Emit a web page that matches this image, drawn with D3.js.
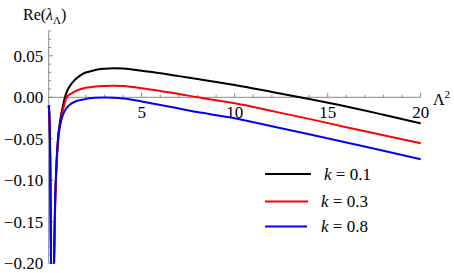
<!DOCTYPE html>
<html>
<head>
<meta charset="utf-8">
<script src="https://cdn.jsdelivr.net/npm/d3@7"></script>
<style>
  html, body { margin: 0; padding: 0; background: #fff; }
  svg { display: block; }
</style>
</head>
<body>
<svg id="chart" width="454" height="273" font-family="'Liberation Serif', 'Times New Roman', Times, 'DejaVu Serif', serif"></svg>
<script>
// Λ² grid shared by all series
const lambda2 = [0, 0.04, 0.08, 0.12, 0.16, 0.22, 0.28, 0.34, 0.4, 0.5, 0.6, 0.75, 0.9, 1.0, 1.25, 1.5, 1.9, 2.2, 2.5, 3, 3.5, 4, 5, 6, 7, 8, 9, 10, 12, 14, 16, 18, 20];

// Re(λ_Λ) for each k
const reK01 = [-0.010, -0.025, -0.07, -0.18, -0.35, -0.32, -0.21, -0.13, -0.09, -0.05, -0.03, -0.012, 0.002, 0.008, 0.017, 0.023, 0.029, 0.031, 0.033, 0.0345, 0.035, 0.0347, 0.032, 0.029, 0.0255, 0.022, 0.0185, 0.0148, 0.0065, -0.002, -0.011, -0.021, -0.0313];
const reK03 = [-0.010, -0.025, -0.07, -0.18, -0.35, -0.33, -0.22, -0.14, -0.095, -0.055, -0.035, -0.017, -0.004, 0.001, 0.005, 0.008, 0.011, 0.012, 0.013, 0.0137, 0.0139, 0.0135, 0.011, 0.0075, 0.004, 0.0, -0.0035, -0.0072, -0.0165, -0.026, -0.036, -0.0457, -0.0554];
const reK08 = [-0.010, -0.025, -0.07, -0.18, -0.35, -0.31, -0.2, -0.13, -0.09, -0.05, -0.035, -0.022, -0.015, -0.012, -0.007, -0.0045, -0.0025, -0.0012, -0.0005, -0.0002, -0.0006, -0.0015, -0.005, -0.0092, -0.0135, -0.0178, -0.0215, -0.0253, -0.0348, -0.0445, -0.0545, -0.0645, -0.0747];

const seriesLabels = ["0.1", "0.3", "0.8"];
const seriesColors = ["#000000", "#ff0000", "#0000ff"];
const xTickLabels = [5, 10, 15, 20];
const yTickLabels = [0.05, 0.00, -0.05, -0.10, -0.15, -0.20];

const series = [reK01, reK03, reK08].map((vals, i) => ({
  label: seriesLabels[i], color: seriesColors[i],
  points: lambda2.map((x, j) => [x, vals[j]])
}));

const svg = d3.select("#chart");
const x = d3.scaleLinear().domain([0, 20]).range([48.7, 420.7]);
const y = d3.scaleLinear().domain([-0.2, 0.08]).range([263.3, 30.9]);

svg.append("defs").append("clipPath").attr("id", "clip")
  .append("rect").attr("x", 45).attr("y", 20).attr("width", 380).attr("height", 263.6 - 20);

const axisColor = "#8a8a8a";

// X axis (at y = 0)
const gx = svg.append("g").attr("transform", `translate(0,${y(0)})`);
gx.append("line").attr("x1", x(0)).attr("x2", x(20)).attr("stroke", axisColor).attr("stroke-width", 1);
d3.range(1, 21).forEach(v => {
  const major = v % 5 === 0;
  gx.append("line").attr("x1", x(v)).attr("x2", x(v))
    .attr("y1", 0).attr("y2", major ? -4.5 : -2.5)
    .attr("stroke", axisColor).attr("stroke-width", 1);
});
xTickLabels.forEach(v => {
  gx.append("text").attr("x", x(v)).attr("y", 21)
    .attr("text-anchor", "middle").attr("font-size", 17).text(v);
});

// Y axis (at x = 0)
const gy = svg.append("g").attr("transform", `translate(${x(0)},0)`);
gy.append("line").attr("y1", y(-0.2)).attr("y2", y(0.08)).attr("stroke", axisColor).attr("stroke-width", 1);
d3.range(-20, 9).forEach(i => {
  const v = i / 100;
  const major = i % 5 === 0;
  gy.append("line").attr("x1", 0).attr("x2", major ? 4.5 : 2.5)
    .attr("y1", y(v)).attr("y2", y(v))
    .attr("stroke", axisColor).attr("stroke-width", 1);
});
const fmt = v => (v < 0 ? "\u2212" : "") + Math.abs(v).toFixed(2);
yTickLabels.forEach(v => {
  gy.append("text").attr("x", -5.5).attr("y", y(v)).attr("dy", "0.35em")
    .attr("text-anchor", "end").attr("font-size", 17).text(fmt(v));
});

// Axis titles
const yt = svg.append("text").attr("x", 23).attr("y", 20).attr("font-size", 16);
yt.append("tspan").text("Re(");
yt.append("tspan").attr("font-style", "italic").text("λ");
yt.append("tspan").attr("font-size", 11).attr("dy", 4).text("Λ");
yt.append("tspan").attr("dy", -4).text(")");

const xt = svg.append("text").attr("x", 433).attr("y", 105).attr("font-size", 16);
xt.append("tspan").text("Λ");
xt.append("tspan").attr("font-size", 11).attr("dy", -7).text("2");

// Curves
const line = d3.line().x(d => x(d[0])).y(d => y(d[1])).curve(d3.curveMonotoneX);
const gc = svg.append("g").attr("clip-path", "url(#clip)");
series.forEach(s => {
  gc.append("path").attr("d", line(s.points))
    .attr("fill", "none").attr("stroke", s.color).attr("stroke-width", 2);
});

// Legend
const legY = [174, 201.5, 226.5];
const legX2 = [311, 308, 307];
const legTX = [324, 321, 321];
series.forEach((s, i) => {
  svg.append("line").attr("x1", 265).attr("x2", legX2[i]).attr("y1", legY[i]).attr("y2", legY[i])
    .attr("stroke", s.color).attr("stroke-width", 2);
  const t = svg.append("text").attr("x", legTX[i]).attr("y", legY[i]).attr("dy", "0.35em").attr("font-size", 17);
  t.append("tspan").attr("font-style", "italic").text("k");
  t.append("tspan").text(" = " + s.label);
});
</script>
</body>
</html>
